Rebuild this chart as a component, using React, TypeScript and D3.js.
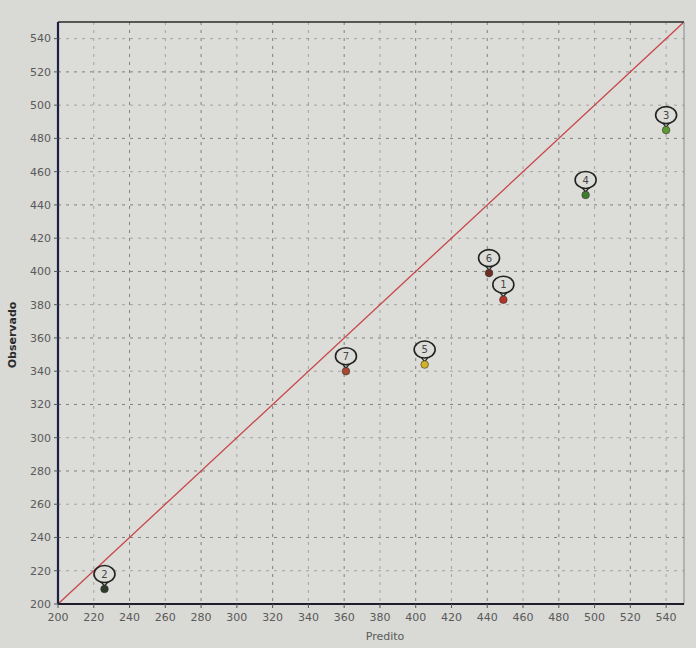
import React from "react";
import * as d3 from "d3";

const pointIds = ["1", "2", "3", "4", "5", "6", "7"];
const predicted = [449, 226, 540, 495, 405, 441, 361];
const observed = [383, 209, 485, 446, 344, 399, 340];
const pointColors = ["#b8322a", "#2e3a2a", "#5d9a32", "#3f7d2e", "#d2b224", "#6a2e22", "#a9482e"];
const xTicks = d3.range(200, 541, 20);
const yTicks = d3.range(200, 541, 20);
const domainMin = 200;
const domainMax = 550;

const W = 696;
const H = 648;
const M = { left: 58, top: 22, right: 684, bottom: 604 };

export default function App() {
  const x = d3.scaleLinear().domain([domainMin, domainMax]).range([M.left, M.right]);
  const y = d3.scaleLinear().domain([domainMin, domainMax]).range([M.bottom, M.top]);
  const font = "'DejaVu Sans', Arial, sans-serif";
  return (
    <svg width={W} height={H} style={{ position: "absolute", left: 0, top: 0 }}>
      <rect x={0} y={0} width={W} height={H} fill="#d9d9d5" />
      <rect x={M.left} y={M.top} width={M.right - M.left} height={M.bottom - M.top} fill="#dcdcd8" />
      {xTicks.map((t) => (
        <line key={"gx" + t} x1={x(t)} x2={x(t)} y1={M.top} y2={M.bottom} stroke="#6a6a6a" strokeWidth={1} strokeDasharray="3,5" opacity={t % 40 === 0 ? 0.8 : 0.5} />
      ))}
      {yTicks.map((t) => (
        <line key={"gy" + t} x1={M.left} x2={M.right} y1={y(t)} y2={y(t)} stroke="#6a6a6a" strokeWidth={1} strokeDasharray="3,5" opacity={t % 40 === 0 ? 0.8 : 0.5} />
      ))}
      <line x1={x(domainMin)} y1={y(domainMin)} x2={x(domainMax)} y2={y(domainMax)} stroke="#c8464a" strokeWidth={1.3} />
      <line x1={M.left} x2={M.right} y1={M.top} y2={M.top} stroke="#2a2a2a" strokeWidth={1.6} />
      <line x1={M.right} x2={M.right} y1={M.top} y2={M.bottom} stroke="#8a8a90" strokeWidth={1} />
      <line x1={M.left} x2={M.right} y1={M.bottom} y2={M.bottom} stroke="#1e1e2a" strokeWidth={2} />
      <line x1={M.left} x2={M.left} y1={M.top} y2={M.bottom} stroke="#1c2044" strokeWidth={2.2} />
      {yTicks.map((t) => (
        <g key={"yt" + t}>
          <line x1={M.left - 4} x2={M.left} y1={y(t)} y2={y(t)} stroke="#555" strokeWidth={1} />
          <text x={M.left - 7} y={y(t)} dy="0.35em" textAnchor="end" fontSize={11} fill="#5a5a5a" fontFamily={font}>{t}</text>
        </g>
      ))}
      {xTicks.map((t) => (
        <g key={"xt" + t}>
          <line x1={x(t)} x2={x(t)} y1={M.bottom} y2={M.bottom + 4} stroke="#555" strokeWidth={1} />
          <text x={x(t)} y={M.bottom + 17} textAnchor="middle" fontSize={11} fill="#5a5a5a" fontFamily={font}>{t}</text>
        </g>
      ))}
      <text x={385} y={640} textAnchor="middle" fontSize={11} fill="#5a5a5a" fontFamily={font}>Predito</text>
      <text transform={`translate(16,${335}) rotate(-90)`} textAnchor="middle" fontSize={11} fill="#2a2a2a" fontWeight="bold" fontFamily={font}>Observado</text>
      {pointIds.map((id, i) => {
        const px = x(predicted[i]);
        const py = y(observed[i]);
        const by = py - 15;
        return (
          <g key={"p" + id}>
            <path
              d={`M ${px - 5} ${by + 6} L ${px} ${py - 3} L ${px + 5} ${by + 6}`}
              fill="none"
              stroke="#222"
              strokeWidth={1.3}
            />
            <ellipse cx={px} cy={by} rx={10.5} ry={8.5} fill="#dcdcd8" stroke="#222" strokeWidth={1.6} />
            <text x={px} y={by} dy="0.36em" textAnchor="middle" fontSize={10} fill="#444" fontFamily={font}>{id}</text>
            <circle cx={px} cy={py} r={3.8} fill={pointColors[i]} stroke="#333" strokeWidth={0.6} />
          </g>
        );
      })}
    </svg>
  );
}
